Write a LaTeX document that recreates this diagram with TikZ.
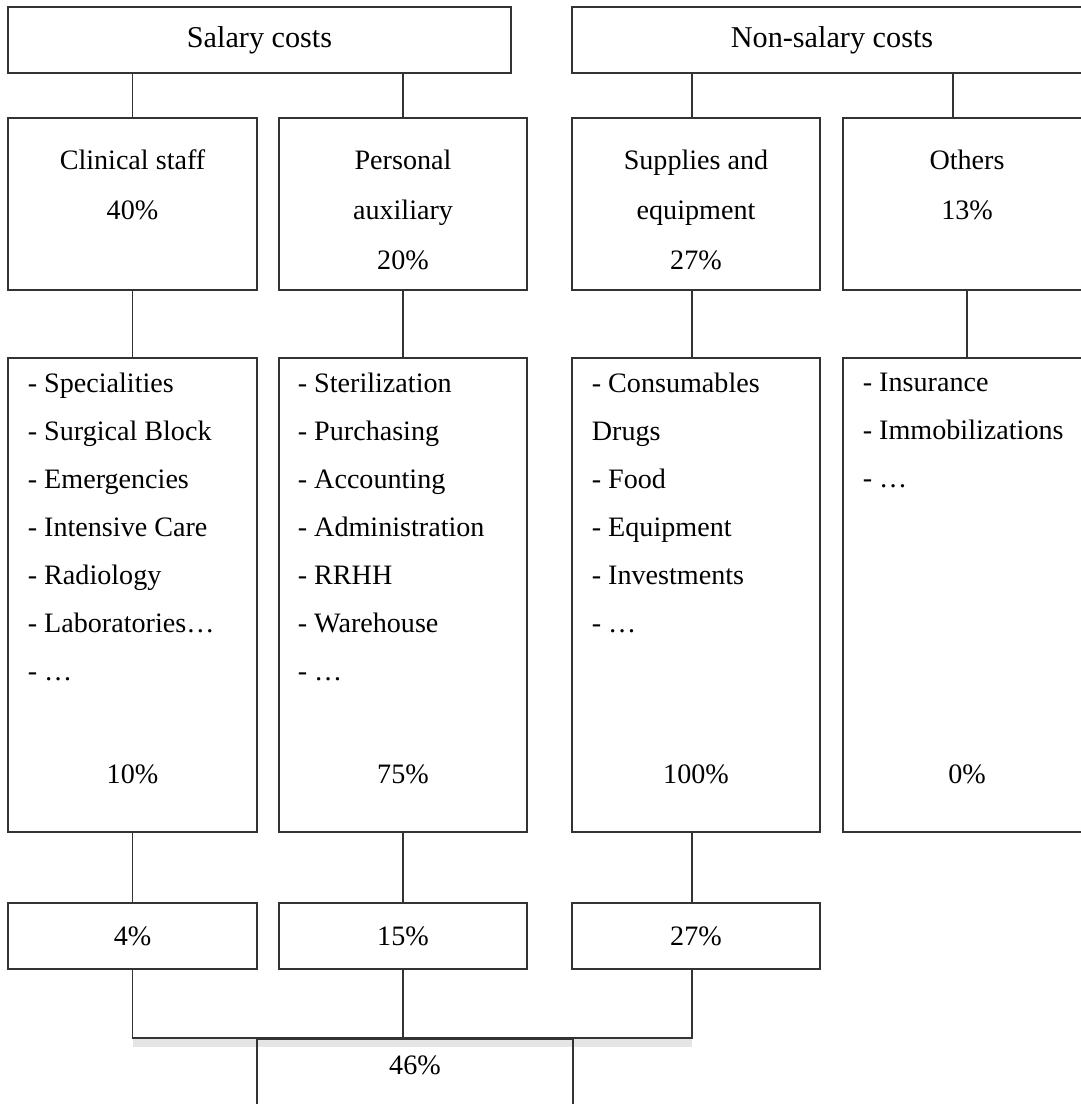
\documentclass[tikz,border=0pt]{standalone}
\usepackage{fontspec}
\setmainfont{Liberation Serif}
\usetikzlibrary{positioning, calc}

\begin{document}
\begin{tikzpicture}[
    box/.style={rectangle, draw=black!80, line width=0.5pt, inner sep=0pt, minimum width=2.48cm},
    headtext/.style={anchor=north, align=center, inner sep=0pt, font=\fontsize{8}{14.2}\selectfont},
    listtext/.style={anchor=north west, align=left, inner sep=0pt, font=\fontsize{8}{13.66}\selectfont},
    pcttext/.style={anchor=base, inner sep=0pt, font=\fontsize{8}{10}\selectfont},
    link/.style={draw=black!80, line width=0.5pt}
]
\useasboundingbox (0,0) rectangle (10.81,-11.04);
\clip (0,0) rectangle (10.81,-11.04);

% Cost groups
\node[box, minimum width=5.03cm, minimum height=0.66cm, font=\fontsize{8.6}{10}\selectfont] (salary) at (2.595,-0.40) {Salary costs};
\node[box, minimum width=5.20cm, minimum height=0.66cm, font=\fontsize{8.6}{10}\selectfont] (nonsalary) at (8.32,-0.40) {Non-salary costs};

% Cost categories
\node[box, minimum width=2.49cm, minimum height=1.72cm] (clinical) at (1.325,-2.04) {};
\node[box, minimum height=1.72cm] (auxiliary) at (4.03,-2.04) {};
\node[box, minimum height=1.72cm] (supplies) at (6.96,-2.04) {};
\node[box, minimum height=1.72cm] (others) at (9.67,-2.04) {};

\node[headtext] (clinical_t) at ([yshift=-0.32cm]clinical.north) {Clinical staff\\40\%};
\node[headtext] (auxiliary_t) at ([yshift=-0.32cm]auxiliary.north) {Personal\\auxiliary\\20\%};
\node[headtext] (supplies_t) at ([yshift=-0.32cm]supplies.north) {Supplies and\\equipment\\27\%};
\node[headtext] (others_t) at ([yshift=-0.32cm]others.north) {Others\\13\%};

% Detail lists
\node[box, minimum width=2.49cm, minimum height=4.74cm] (clinical_l) at (1.325,-5.95) {};
\node[box, minimum height=4.74cm] (auxiliary_l) at (4.03,-5.95) {};
\node[box, minimum height=4.74cm] (supplies_l) at (6.96,-5.95) {};
\node[box, minimum height=4.74cm] (others_l) at (9.67,-5.95) {};

\node[listtext] (clinical_i) at ($(clinical_l.north west)+(0.20,-0.15)$) {- Specialities\\- Surgical Block\\- Emergencies\\- Intensive Care\\- Radiology\\- Laboratories\ldots\\- \ldots};
\node[listtext] (auxiliary_i) at ($(auxiliary_l.north west)+(0.19,-0.15)$) {- Sterilization\\- Purchasing\\- Accounting\\- Administration\\- RRHH\\- Warehouse\\- \ldots};
\node[listtext] (supplies_i) at ($(supplies_l.north west)+(0.20,-0.15)$) {- Consumables\\Drugs\\- Food\\- Equipment\\- Investments\\- \ldots};
\node[listtext] (others_i) at ($(others_l.north west)+(0.20,-0.15)$) {- Insurance\\- Immobilizations\\- \ldots};

\node[pcttext] (clinical_s) at ([yshift=0.49cm]clinical_l.south) {10\%};
\node[pcttext] (auxiliary_s) at ([yshift=0.49cm]auxiliary_l.south) {75\%};
\node[pcttext] (supplies_s) at ([yshift=0.49cm]supplies_l.south) {100\%};
\node[pcttext] (others_s) at ([yshift=0.49cm]others_l.south) {0\%};

% Weighted shares
\node[box, minimum width=2.49cm, minimum height=0.66cm, font=\fontsize{8}{10}\selectfont] (clinical_p) at (1.325,-9.36) {4\%};
\node[box, minimum height=0.66cm, font=\fontsize{8}{10}\selectfont] (auxiliary_p) at (4.03,-9.36) {15\%};
\node[box, minimum height=0.66cm, font=\fontsize{8}{10}\selectfont] (supplies_p) at (6.96,-9.36) {27\%};

% Total
\draw[black!10, line width=2pt] ([yshift=-10.43cm]clinical_p.south |- 0,0) -- ([xshift=-0.04cm,yshift=-10.43cm]supplies_p.south |- 0,0);
\node[box, anchor=north, minimum width=3.16cm, minimum height=1.2cm] (total) at (4.15,-10.38) {};
\node[pcttext] (total_t) at ([yshift=-0.36cm]total.north) {46\%};

% Connections
\draw[link] (clinical.north |- salary.south) -- (clinical.north);
\draw[link] (auxiliary.north |- salary.south) -- (auxiliary.north);
\draw[link] ([xshift=-0.04cm]supplies.north |- nonsalary.south) -- ([xshift=-0.04cm]supplies.north);
\draw[link] ([xshift=-0.14cm]others.north |- nonsalary.south) -- ([xshift=-0.14cm]others.north);

\draw[link] (clinical.south) -- (clinical_l.north);
\draw[link] (auxiliary.south) -- (auxiliary_l.north);
\draw[link] ([xshift=-0.04cm]supplies.south) -- ([xshift=-0.04cm]supplies_l.north);
\draw[link] (others.south) -- (others_l.north);

\draw[link] (clinical_l.south) -- (clinical_p.north);
\draw[link] (auxiliary_l.south) -- (auxiliary_p.north);
\draw[link] ([xshift=-0.04cm]supplies_l.south) -- ([xshift=-0.04cm]supplies_p.north);

\draw[link] (clinical_p.south) |- ([xshift=-0.04cm]supplies_p.south |- total.north) -- ([xshift=-0.04cm]supplies_p.south);
\draw[link] (auxiliary_p.south) -- (auxiliary_p.south |- total.north);

\end{tikzpicture}
\end{document}
